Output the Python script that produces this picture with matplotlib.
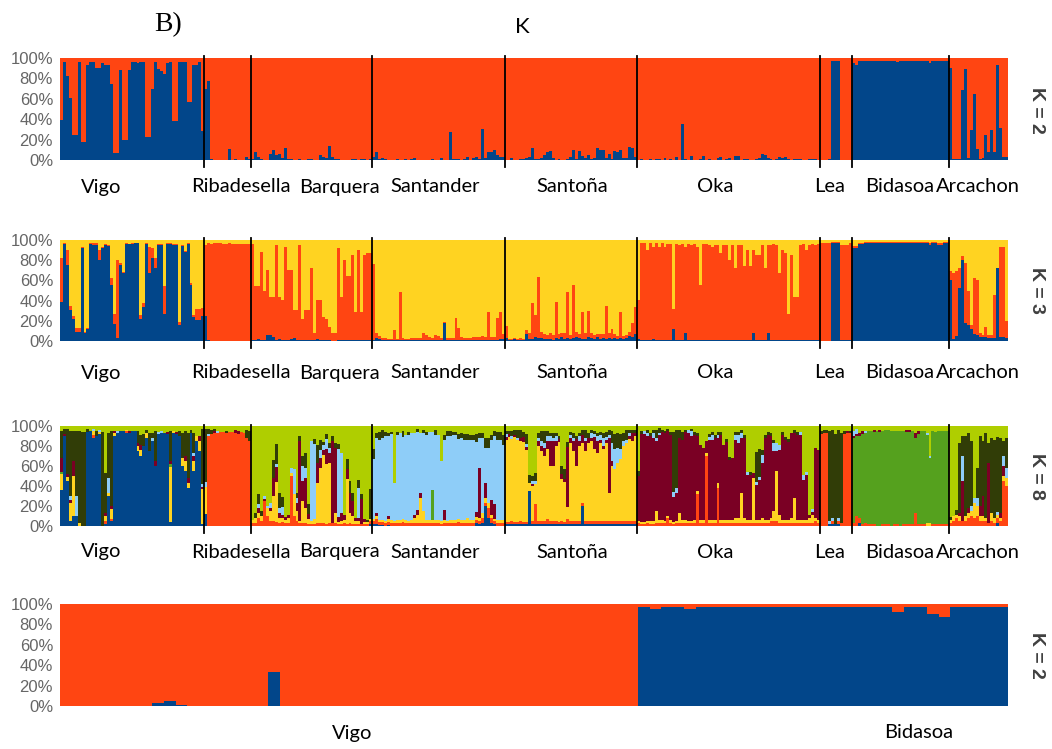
import re
import numpy as np
import matplotlib
matplotlib.use("Agg")
import matplotlib.pyplot as plt

# population names and sizes (top three panels share the same individuals)
pops = ["Vigo", "Ribadesella", "Barquera", "Santander", "Santoña", "Oka", "Lea", "Bidasoa", "Arcachon"]

# ---------- K = 2 : blue membership (%) per individual ----------
k2_vigo = [39, 96, 82, 61, 25, 25, 96, 18, 18, 93, 96, 96, 90, 90, 95, 93, 93, 75, 7, 7,
           88, 20, 20, 88, 96, 96, 95, 96, 96, 23, 23, 70, 96, 89, 87, 84, 95, 96, 38, 38,
           96, 96, 96, 57, 57, 93, 93, 96, 28]
k2_rib = [70, 77, 1, 0, 0, 0, 0, 0, 11, 0, 1, 0, 0, 0, 3, 1]
k2_barq = [1, 8, 3, 1, 0, 0, 6, 10, 5, 6, 2, 12, 1, 1, 0, 0, 1, 0, 0, 1,
           1, 0, 0, 5, 3, 2, 14, 3, 1, 1, 0, 0, 0, 0, 1, 1, 0, 1, 1, 0, 1]
k2_sant = [3, 8, 1, 2, 1, 0, 0, 0, 1, 0, 0, 1, 0, 1, 2, 0, 0, 0, 0, 0,
           1, 0, 0, 2, 0, 0, 27, 1, 1, 1, 0, 1, 3, 0, 2, 3, 1, 30, 2, 8,
           8, 10, 5, 3, 3]
k2_santona = [0, 0, 2, 0, 0, 1, 1, 2, 3, 12, 1, 1, 2, 5, 8, 9, 2, 0, 1, 0,
              0, 1, 3, 10, 1, 9, 4, 2, 5, 1, 2, 12, 10, 10, 2, 6, 1, 9, 8, 10,
              2, 2, 13, 12, 3]
k2_oka = [0, 1, 0, 0, 1, 0, 1, 1, 0, 2, 0, 1, 0, 3, 0, 35, 1, 0, 4, 0,
          0, 1, 4, 0, 1, 0, 0, 2, 3, 0, 1, 2, 0, 4, 4, 0, 1, 1, 0, 0,
          1, 2, 6, 5, 2, 1, 0, 1, 3, 2, 3, 1, 0, 1, 1, 1, 0, 0, 1, 1, 1, 0]
k2_lea = [0, 0, 0, 1, 97, 97, 97, 0, 0, 0, 0]
k2_bid = [95, 93, 97, 97, 97, 97, 97, 97, 97, 97, 97, 97, 97, 97, 97, 96, 97, 97, 97, 97,
          97, 97, 97, 97, 97, 97, 95, 97, 97, 97, 97, 97, 97]
k2_arc = [90, 1, 1, 1, 69, 89, 2, 29, 65, 11, 1, 2, 25, 8, 29, 8, 93, 31, 3, 3]

# ---------- K = 3 : blue and red membership (%), yellow is the rest ----------
k3b_vigo = [39, 96, 75, 31, 22, 9, 9, 92, 8, 12, 96, 95, 95, 80, 92, 95, 94, 55, 17, 3,
            75, 67, 96, 96, 96, 97, 97, 22, 34, 96, 67, 82, 72, 95, 95, 27, 96, 96, 95, 95,
            16, 94, 88, 96, 55, 24, 21, 21, 25]
k3r_vigo = [43, 1, 15, 4, 3, 4, 4, 1, 1, 1, 1, 2, 2, 10, 1, 1, 1, 7, 10, 77,
            2, 1, 1, 0, 1, 0, 0, 4, 4, 1, 26, 10, 10, 1, 1, 27, 1, 1, 1, 1,
            3, 1, 1, 1, 2, 2, 11, 11, 8]
k3b_rib = [25, 1, 0, 0, 0, 0, 0, 0, 0, 0, 0, 0, 0, 0, 0, 0]
k3r_rib = [70, 96, 96, 97, 97, 97, 96, 96, 97, 96, 96, 96, 96, 96, 96, 96]
k3b_barq = [1, 1, 2, 1, 1, 6, 6, 4, 1, 2, 1, 1, 1, 2, 3, 1, 1, 1, 1, 1,
            1, 1, 2, 1, 1, 1, 1, 0, 0, 1, 1, 1, 1, 1, 1, 1, 1, 1, 1, 1, 1]
k3r_barq = [95, 53, 52, 87, 49, 64, 38, 40, 94, 42, 40, 92, 69, 68, 28, 30, 94, 21, 30, 30,
            71, 7, 39, 40, 23, 21, 13, 8, 8, 91, 43, 79, 63, 63, 84, 28, 89, 28, 84, 86, 86]
k3b_sant = [1, 3, 2, 1, 1, 1, 1, 1, 1, 1, 1, 1, 1, 1, 1, 1, 1, 1, 1, 1,
            1, 1, 1, 1, 18, 1, 1, 1, 1, 1, 1, 1, 1, 1, 1, 1, 1, 1, 1, 1,
            1, 1, 1, 2, 2]
k3r_sant = [75, 5, 3, 2, 2, 1, 1, 10, 1, 48, 2, 1, 1, 2, 2, 2, 2, 7, 5, 3,
            2, 5, 4, 2, 1, 2, 2, 2, 22, 12, 3, 2, 2, 2, 3, 3, 3, 4, 3, 28,
            3, 3, 22, 27, 5]
k3b_santona = [3, 1, 1, 2, 1, 1, 1, 7, 2, 2, 4, 3, 3, 2, 2, 2, 1, 3, 2, 4,
               2, 3, 2, 3, 4, 3, 2, 2, 4, 3, 2, 4, 2, 3, 2, 3, 2, 3, 2, 3,
               2, 3, 5, 4, 7]
k3r_santona = [12, 1, 1, 1, 1, 2, 1, 4, 6, 36, 22, 60, 6, 5, 4, 6, 5, 36, 5, 4,
               6, 46, 4, 52, 5, 4, 27, 6, 26, 5, 4, 3, 5, 4, 33, 5, 10, 4, 3, 26,
               3, 3, 4, 14, 27]
k3b_oka = [2, 1, 1, 1, 1, 2, 1, 1, 1, 1, 1, 1, 12, 1, 1, 1, 8, 1, 1, 1,
           1, 1, 1, 1, 1, 1, 1, 1, 1, 1, 1, 1, 1, 1, 1, 1, 1, 1, 1, 8,
           1, 1, 1, 1, 8, 1, 1, 1, 1, 1, 1, 1, 1, 1, 1, 1, 1, 1, 1, 1, 1, 1]
k3r_oka = [39, 96, 96, 89, 96, 91, 96, 92, 96, 92, 95, 95, 20, 95, 94, 95, 85, 95, 94, 95,
           92, 54, 95, 95, 94, 92, 94, 94, 86, 94, 94, 79, 94, 71, 94, 94, 73, 89, 73, 82,
           84, 84, 94, 71, 87, 94, 95, 94, 66, 89, 86, 26, 84, 43, 43, 94, 95, 89, 94, 95, 94, 95]
k3b_lea = [0, 0, 0, 0, 97, 97, 97, 1, 1, 1, 1]
k3r_lea = [97, 97, 97, 97, 1, 1, 1, 94, 94, 94, 96]
k3b_bid = [92, 92, 96, 96, 97, 97, 97, 97, 97, 97, 97, 97, 97, 97, 97, 97, 97, 97, 97, 97,
           97, 97, 97, 97, 97, 97, 95, 97, 97, 95, 95, 97, 97]
k3r_bid = [2, 2, 1, 1, 1, 1, 1, 1, 1, 1, 1, 1, 1, 1, 1, 1, 1, 1, 1, 1,
           1, 1, 1, 1, 1, 1, 2, 1, 1, 2, 2, 1, 1]
k3b_arc = [60, 2, 5, 52, 80, 18, 16, 12, 7, 6, 4, 4, 4, 3, 3, 3, 72, 4, 4, 3]
k3r_arc = [9, 65, 64, 20, 4, 59, 34, 4, 55, 54, 4, 2, 10, 3, 3, 43, 0, 89, 89, 17]

# ---------- K = 8 : b blue, r red, y yellow, g green, m maroon, c light blue, o dark olive; rest lime ----------
k8_vigo = ["b36 y16 g2 m14 o27", "b90 m2 o5", "b45 y4 m3 o45", "b5 y18 c4 m3 o65", "b10 y40 m15 o30",
           "b10 c20 o65", "y3 o92", "o94", "o94", "b94 o3", "b95", "b88 r3 y4 c2", "b90 o5", "b92 y2 c2",
           "o94", "b2 r3 y5 m3 o40", "b30 y3 c15 o45", "b5 r2 y10 m3 o75", "b90 y3 m2", "b93 c2", "b95",
           "b95", "b93 r2 y1", "b93 m2", "b95", "b95", "b75 y5 m3 o12", "b70 y6 m5 o10", "b80 o12",
           "b88 y5 o3", "b75 o18", "b85 c3 o5", "b60 m5 o30", "b92 c2", "b93 c2", "b93", "b92 m2",
           "b4 y55 g3 m3 o30", "b93 y2", "b92 m2", "b90 o5", "b60 y8 o25", "b55 y10 m5 o25",
           "b38 y5 m5 o45", "b93 o3", "b55 y10 m5 c3 o20", "b85 y5", "b75 y10 m5", "b2 y35 c3 m2 o55"]
k8_rib = ["b12 y27 c5 o53", "r90 c2 o5", "r92 o4", "r93 m2 o2", "r93 c2", "r94", "r94", "r93 o2",
          "r94", "r94", "r93 m3", "r92 m3", "r94", "r93", "r88 o8", "r85 o10"]
k8_barq = ["r3 y3", "r3 y5 o5", "r8 y5 c4 m5 o10", "r5 y5 o5", "r25 c3 m2", "r10 y8 c2",
           "r5 y10 c5 m3", "r5 y25 m18 o18", "r4 y40 c3 m15 o20", "r3 y5 c5 m5 o15", "r4 y4 c8 m3 o10",
           "r3 y3 m3", "r3 y5 m3", "r50 y3 c5", "r10 y22 c25", "r5 y10 c5 m8 o5", "r3 y2 m80 o5",
           "r3 y22 c15 m20 o10", "r3 y15 c10 m30 o15", "r2 y5 m5 o10", "r2 y3 c80", "r2 y5 c75 o5",
           "r3 y40 m20 o18", "r3 y55 m10 c8 o10", "r3 y68 c5 m5 o3", "r2 y60 c10 m15 o5",
           "r3 y60 m10 c5 o5", "r3 m82 o5", "r3 y10 m65 o5", "r2 y2 c68 m5 o5", "r2 y3 c60 m8",
           "r3 y3 m5", "r2 y45 m10 o10", "r3 y10 m20 o12", "r2 y8 m15 o8", "r2 y3 m3",
           "r2 y3 c30 m3 o8", "r2 m25 o5", "r2 y2 m3", "r2 y2 o2", "b2 r3 y2 o30"]
k8_sant = ["b2 r3 y2 c60 o10", "b2 r5 y3 m3 c75 o5", "b1 r3 y2 c80 o8", "b1 r3 y2 c82 o8",
           "r3 y2 c85 o4", "b1 r3 y3 m3 c80 o3", "r3 y3 c86 o2", "r3 y2 c38", "r3 y3 c85 o3",
           "r3 y3 c87", "r4 y3 c82 o6", "r3 y3 c85", "r3 y2 c86 o3", "r3 y3 c87", "r3 y5 m3 c82",
           "r3 y8 m5 c78 o3", "r3 y25 m5 c60", "r3 y12 c78 o3", "r3 y3 c85 o3", "r3 y3 c88",
           "r3 y3 g30 c58", "r3 y3 c85 o5", "r3 y3 c85", "r2 y3 c60", "r3 y3 m10 c70 o5",
           "r3 y2 c85 o5", "r3 y3 c84 o5", "r3 y3 c85 o3", "r3 y3 c85 o3", "r4 y3 c80 o5",
           "r3 y3 c82 o5", "r3 y3 c80 o6", "r3 y5 c78 o6", "r3 y3 c80 o5", "r3 y3 c80 o5",
           "b3 r3 y3 m5 c70 o8", "b2 r3 y3 m50 c30 o5", "b3 r5 y5 c75 o5", "b20 r3 y5 m15 c35 o10",
           "b8 r10 y5 c55 o10", "b3 r5 y3 m15 c60 o5", "b2 r3 y2 m15 c68 o5", "r3 y3 c80 o8",
           "r3 y3 c80 o8", "r3 y3 c75 o10"]
k8_santona = ["b2 r2 y82 c3 m3 o3", "b2 r2 y85 m3 o3", "b2 r3 y82 c3 o5", "b2 r2 y85 m2 o5",
              "b2 r2 y82 c2 o8", "b2 r3 y80 m3 o8", "b2 r2 y80 m5 o5", "b2 r2 y72 c3 m3 o10",
              "b35 y8 o8", "b2 r3 y35 c3 m2 o5", "b2 r20 y20 c3 o8", "b2 r3 y75 c3 m5 o5",
              "b2 r3 y70 c5 m5 o10", "b2 r3 y65 c5 m8 o12", "b2 r5 y70 c5 m8 o5", "b2 r3 y55 c5 m25 o3",
              "b2 r3 y55 c3 m25 o5", "b2 r3 y75 c5 m5 o3", "b2 r2 y80 m3 o3", "b2 r3 y42 m5 o8",
              "b2 r2 y40 m3 o10", "b2 r5 y12 m60 o5", "b2 r3 y78 c3 m5 o3", "b2 r3 y70 c3 m10 o5",
              "b2 r3 y55 m27 o3", "b2 r3 y75 c5 m5 o3", "b20 r3 y60 m8 o5", "b2 r3 y70 c3 m10 o8",
              "b2 r3 y78 m5 o5", "b2 r3 y80 c5 m3 o3", "b2 r3 y72 c3 m12 o3", "b2 r3 y68 c5 m12 o3",
              "b2 r3 y78 c5 m3 o3", "b2 r3 y72 c8 m3 o5", "b2 r3 y78 c3 m3 o5", "b2 r3 y28 c3 m55 o5",
              "b2 r3 y55 c18 m5 o12", "b2 r3 y52 c20 o15", "b2 r3 y58 c15 o15", "b2 r3 y62 c10 o15",
              "b2 r3 y75 c5 o8", "b2 r3 y78 c3 o10", "b2 r3 y82 c3 m3 o3", "b2 r3 y80 m8 o3",
              "b2 r3 y85 m3 o3"]
k8_oka = ["r3 y2 m45 o5", "r2 y2 m88 o3", "r2 y2 m88 c3", "r3 y2 m85 c3 o3", "r2 y3 m85 o3",
          "r2 y3 m83 c5 o3", "r3 y12 m70 c3 o8", "r3 y3 m85 c2 o5", "r3 y3 m88 o2", "r3 y2 m88 o2",
          "r8 y2 m85 o2", "r3 y3 m85 o3", "r2 y2 m25 c5 o60", "r3 y2 m28 c5 o58", "r3 y10 m75 o8",
          "r3 y3 m80 o8", "r3 y3 m88 o2", "r3 y2 m88 c3", "r3 y2 m85 c5 o2", "r3 y3 m85 o3",
          "r32 y3 m55 o3", "r3 y3 m75", "r3 y3 m72", "r70 y3 m12", "r3 y3 m80 c3 o3",
          "r3 y3 m80 c5 o3", "r3 y3 m82 o3", "r38 y5 m45 c3 o3", "r3 y3 m85 o3", "r3 y3 m75",
          "r3 y3 m78 o3", "r3 y3 m60 o3", "r3 y3 m62", "r3 y5 m78 c5 o3", "r3 y5 m75 c8 o3",
          "r3 y30 m55 c5 o3", "r3 y5 m80 o3", "r3 y3 m45 c3", "r3 y3 m45 o3", "r3 y45 m5",
          "r3 y3 m35 c3 o30", "r3 y3 m40 c3 o28", "r3 y5 m55 c8 o5", "r3 y3 m82 o3", "r3 y3 m85 o3",
          "r5 y3 m82 o3", "r5 y10 m60 c8 o3", "r5 y50 m20 c8", "r3 y8 m65 c5", "r3 y3 m85 o3",
          "r3 y3 m80 o3", "r3 y3 m78 o3", "r3 y5 m85", "r3 y25 m65 o3", "r3 y3 m85 o3",
          "r3 y3 m85 c3", "r3 y3 m40 c5", "r3 y3 m45 c3", "r3 y5 m3", "r3 y8 m3 c3",
          "r5 y3 m70", "r3 y3 m70"]
k8_lea = ["r92 o3", "r93 o3", "r93 o3", "b2 c3 o90", "b2 r3 c3 o88", "b2 o90", "b2 r3 c3 o88",
          "r3 o90", "r92 o3", "r93 m2", "r93 o2"]
k8_bid = ["r3 g85 m2 c5", "r10 g80 m2 c5", "b3 r5 g82 m3", "r2 g90 m3", "r3 g90 c2", "r2 g93",
          "r2 g93", "r2 g92 m2", "g95", "g94 m2", "r2 g93", "r2 g94", "r2 g94", "g95", "r2 g93",
          "r2 g93", "g95", "r2 g93", "r2 g92 m2", "r2 g92 m2", "r2 g93", "r13 g75 m5", "r2 g90 m3",
          "r2 g93", "r2 g93", "y3 g88 c2", "y3 g65 c2", "r2 g93", "r2 g92", "r2 g93", "r2 g93",
          "r2 g93", "r2 g93"]
k8_arc = ["r3 y3 o3", "r5 y5", "r8 y3 o5", "r5 y5 m3 o70", "r5 m40 c25 o20", "r5 y5 o80",
          "r8 y5 m5 o75", "r10 y5 c5 o65", "r8 y15 c5", "r10 y10 c8 o30", "r5 y5 m10 o70",
          "r5 y5 m20 o55", "r5 y3 o85", "r3 m60 o20", "r5 y8 o75", "r3 y5 o78", "b3 r5 y3 c3 o75",
          "r5 y3 m5 o75", "r45 y5 m10 c10 o15", "r40 y8 c10 o30"]

# ---------- bottom panel, K = 2 (Vigo vs Bidasoa) : blue membership (%) ----------
pops_b = ["Vigo", "Bidasoa"]
kb_vigo = [0, 0, 0, 0, 0, 0, 0, 0, 3, 5, 1, 0, 0, 0, 0, 0, 0, 0, 33, 0,
           0, 0, 0, 0, 0, 0, 0, 0, 0, 0, 0, 0, 0, 0, 0, 0, 0, 0, 0, 0,
           0, 0, 0, 0, 0, 0, 0, 0, 0, 0]
kb_bid = [97, 95, 97, 97, 95, 97, 97, 97, 97, 97, 97, 97, 97, 97, 97, 97, 97, 97, 97, 97,
          97, 97, 92, 97, 97, 90, 87, 97, 97, 97, 97, 97]

COL = {"b": "#02468A", "r": "#FF4512", "y": "#FFD321", "g": "#55A11E",
       "m": "#7A0024", "c": "#8ECDF8", "o": "#313D07", "l": "#AFCE00"}
ORDER = "brygmcol"


def k8_matrix(tokens):
    out = np.zeros((len(tokens), len(ORDER)))
    for i, t in enumerate(tokens):
        for code, v in re.findall(r"([a-z])(\d+)", t):
            out[i, ORDER.index(code)] = int(v)
        out[i, -1] = max(0, 100 - out[i, :-1].sum())
    return out


def stacked(ax, layers, colors):
    n = len(layers[0])
    x = np.arange(n)
    bottom = np.zeros(n)
    for vals, c in zip(layers, colors):
        vals = np.asarray(vals, dtype=float)
        ax.bar(x, vals, width=1.0, bottom=bottom, align="edge", color=c, linewidth=0)
        bottom += vals
    ax.set_xlim(0, n)
    ax.set_ylim(0, 100)
    ax.set_yticks(range(0, 101, 20))
    ax.set_yticklabels([f"{v}%" for v in range(0, 101, 20)], fontsize=12,
                       color="#666666", family="Liberation Sans")
    ax.tick_params(length=0, pad=5)
    ax.set_xticks([])
    for s in ax.spines.values():
        s.set_visible(False)


W, H = 1052, 749
fig = plt.figure(figsize=(W / 100, H / 100), dpi=100)


def add_ax(top, bottom):
    return fig.add_axes([60 / W, 1 - bottom / H, 948 / W, (bottom - top) / H])


def px_text(x, y, s, **kw):
    fig.text(x / W, 1 - y / H, s, ha="center", va="center", **kw)


k2_all = k2_vigo + k2_rib + k2_barq + k2_sant + k2_santona + k2_oka + k2_lea + k2_bid + k2_arc
k3b_all = k3b_vigo + k3b_rib + k3b_barq + k3b_sant + k3b_santona + k3b_oka + k3b_lea + k3b_bid + k3b_arc
k3r_all = k3r_vigo + k3r_rib + k3r_barq + k3r_sant + k3r_santona + k3r_oka + k3r_lea + k3r_bid + k3r_arc
k8_all = k8_vigo + k8_rib + k8_barq + k8_sant + k8_santona + k8_oka + k8_lea + k8_bid + k8_arc
sizes = [len(p) for p in [k2_vigo, k2_rib, k2_barq, k2_sant, k2_santona, k2_oka, k2_lea, k2_bid, k2_arc]]
bounds = np.cumsum(sizes)[:-1]

k2b = np.array(k2_all, dtype=float)
k3b = np.array(k3b_all, dtype=float)
k3r = np.array(k3r_all, dtype=float)
m8 = k8_matrix(k8_all)

ax1 = add_ax(58, 160)
stacked(ax1, [k2b, 100 - k2b], [COL["b"], COL["r"]])
ax2 = add_ax(240, 341)
stacked(ax2, [k3b, k3r, 100 - k3b - k3r], [COL["b"], COL["r"], COL["y"]])
ax3 = add_ax(426, 526)
stacked(ax3, [m8[:, j] for j in range(len(ORDER))], [COL[c] for c in ORDER])

for ax in (ax1, ax2, ax3):
    for b in bounds:
        ax.plot([b, b], [-7, 101.5], color="black", lw=1.3, clip_on=False, zorder=5)

vb = np.array(kb_vigo + kb_bid, dtype=float)
ax4 = add_ax(604, 706)
stacked(ax4, [vb, 100 - vb], [COL["b"], COL["r"]])

# population labels (pixel positions)
lab_font = dict(fontsize=14.5, family="Lato", color="black")
lab_x = [101, 241, 339, 435, 572, 715, 830, 900, 978]
for y in (187, 373, 552):
    for name, x in zip(pops, lab_x):
        px_text(x, y, name, **lab_font)
for name, x in zip(pops_b, [352, 919]):
    px_text(x, 733, name, **lab_font)

k_font = dict(fontsize=14, fontweight="bold", color="#404040", rotation=270, family="Liberation Sans")
for y, k in zip((110, 290, 476, 655), ("K = 2", "K = 3", "K = 8", "K = 2")):
    px_text(1036, y, k, **k_font)

px_text(168, 25, "B)", fontsize=20, family="Liberation Serif")
px_text(522, 27, "K", fontsize=16, family="Lato")

fig.savefig("out.png", dpi=100)
